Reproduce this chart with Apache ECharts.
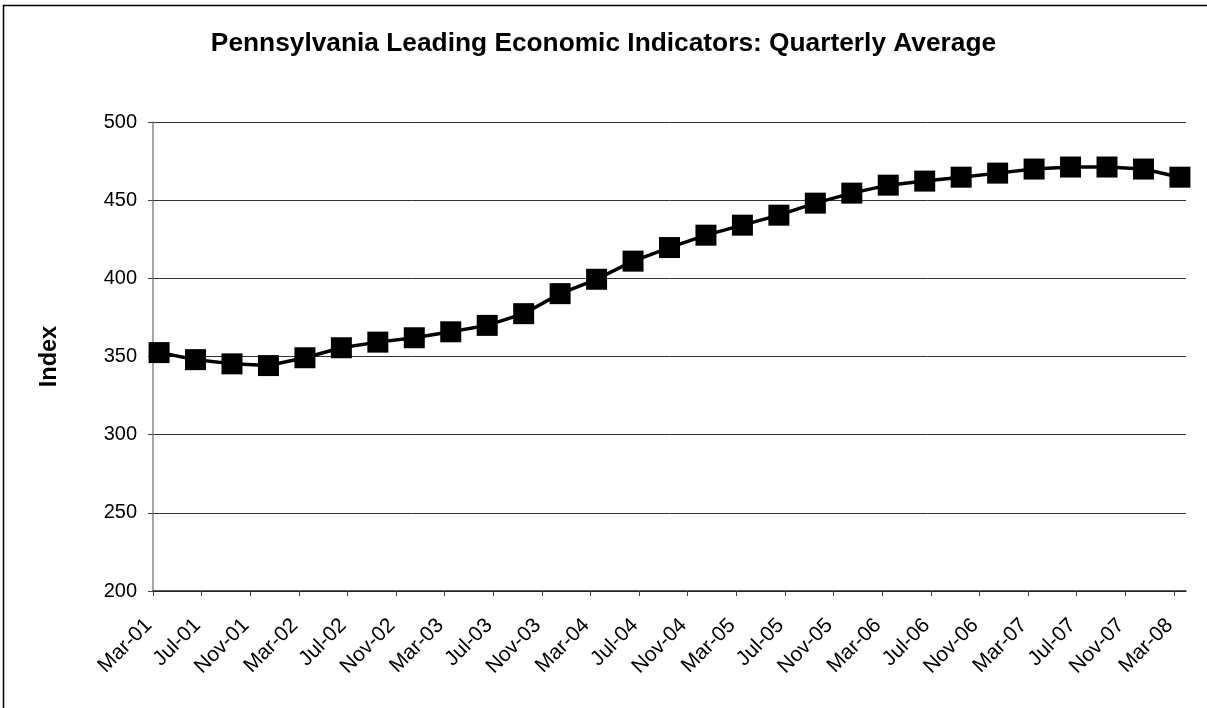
<!DOCTYPE html>
<html>
<head>
<meta charset="utf-8">
<script src="https://cdn.jsdelivr.net/npm/echarts@6/dist/echarts.min.js"></script>
<style>
  html, body { margin: 0; padding: 0; background: #fff; }
  #chart { width: 1207px; height: 708px; }
</style>
</head>
<body>
<div id="chart"></div>
<script>
// quarterly observations, first one is Mar-01
const quarters = [
  'Mar-01', 'Jun-01', 'Sep-01', 'Dec-01',
  'Mar-02', 'Jun-02', 'Sep-02', 'Dec-02',
  'Mar-03', 'Jun-03', 'Sep-03', 'Dec-03',
  'Mar-04', 'Jun-04', 'Sep-04', 'Dec-04',
  'Mar-05', 'Jun-05', 'Sep-05', 'Dec-05',
  'Mar-06', 'Jun-06', 'Sep-06', 'Dec-06',
  'Mar-07', 'Jun-07', 'Sep-07', 'Dec-07',
  'Mar-08'
];
const indexValues = [
  352.5, 348.0, 345.3, 344.2,
  349.2, 355.6, 359.2, 362.0,
  365.8, 369.9, 377.4, 390.2,
  399.4, 411.0, 419.7, 427.6,
  434.0, 440.4, 448.1, 454.5,
  459.6, 462.2, 464.7, 467.3,
  469.9, 471.2, 471.2, 469.9,
  464.7
];
// date axis labels, one every 4 months from Mar-01
const tickLabels = [
  'Mar-01', 'Jul-01', 'Nov-01', 'Mar-02', 'Jul-02', 'Nov-02',
  'Mar-03', 'Jul-03', 'Nov-03', 'Mar-04', 'Jul-04', 'Nov-04',
  'Mar-05', 'Jul-05', 'Nov-05', 'Mar-06', 'Jul-06', 'Nov-06',
  'Mar-07', 'Jul-07', 'Nov-07', 'Mar-08'
];

const monthNames = ['Jan', 'Feb', 'Mar', 'Apr', 'May', 'Jun', 'Jul', 'Aug', 'Sep', 'Oct', 'Nov', 'Dec'];
// months elapsed since Mar-01
function monthOffset(label) {
  const [mon, yy] = label.split('-');
  return (Number(yy) - 1) * 12 + monthNames.indexOf(mon) - 2;
}

const tickValues = tickLabels.map(monthOffset);
// points sit in the middle of their month, like an Excel date axis
const seriesData = quarters.map((q, i) => [monthOffset(q) + 0.5, indexValues[i]]);

const chart = echarts.init(document.getElementById('chart'));
const font = 'Liberation Sans, Arial, sans-serif';

chart.setOption({
  animation: false,
  backgroundColor: '#fff',
  title: {
    text: 'Pennsylvania Leading Economic Indicators: Quarterly Average',
    left: 'center',
    top: 26,
    textStyle: { fontFamily: font, fontSize: 26.3, fontWeight: 'bold', color: '#000' }
  },
  graphic: [{
    type: 'rect',
    shape: { x: 3.5, y: 5.5, width: 1215, height: 715 },
    style: { fill: 'none', stroke: '#000', lineWidth: 1.5 },
    silent: true
  }],
  grid: { left: 153, right: 21, top: 122, bottom: 117 },
  xAxis: {
    type: 'value',
    min: 0,
    max: 85,
    splitLine: { show: false },
    axisLine: { lineStyle: { color: '#222', width: 1.5 } },
    axisTick: { length: 5, customValues: tickValues, lineStyle: { color: '#444' } },
    axisLabel: {
      customValues: tickValues,
      formatter: v => tickLabels[tickValues.indexOf(v)] || '',
      rotate: 45,
      margin: 27,
      padding: [0, 6, 0, 0],
      fontFamily: font,
      fontSize: 21,
      color: '#000'
    }
  },
  yAxis: {
    type: 'value',
    min: 200,
    max: 500,
    interval: 50,
    name: 'Index',
    nameLocation: 'middle',
    nameRotate: 90,
    nameGap: 91,
    nameTextStyle: { fontFamily: font, fontSize: 23.5, fontWeight: 'bold', color: '#000' },
    axisLine: { show: true, lineStyle: { color: '#888', width: 1.5 } },
    axisTick: { show: true, length: 5, lineStyle: { color: '#444' } },
    axisLabel: { margin: 16, fontFamily: font, fontSize: 20, color: '#000' },
    splitLine: { lineStyle: { color: '#333', width: 1 } }
  },
  series: [{
    type: 'line',
    data: seriesData,
    symbol: 'rect',
    symbolSize: 21,
    itemStyle: { color: '#000' },
    lineStyle: { color: '#000', width: 3.5 }
  }]
});
</script>
</body>
</html>
